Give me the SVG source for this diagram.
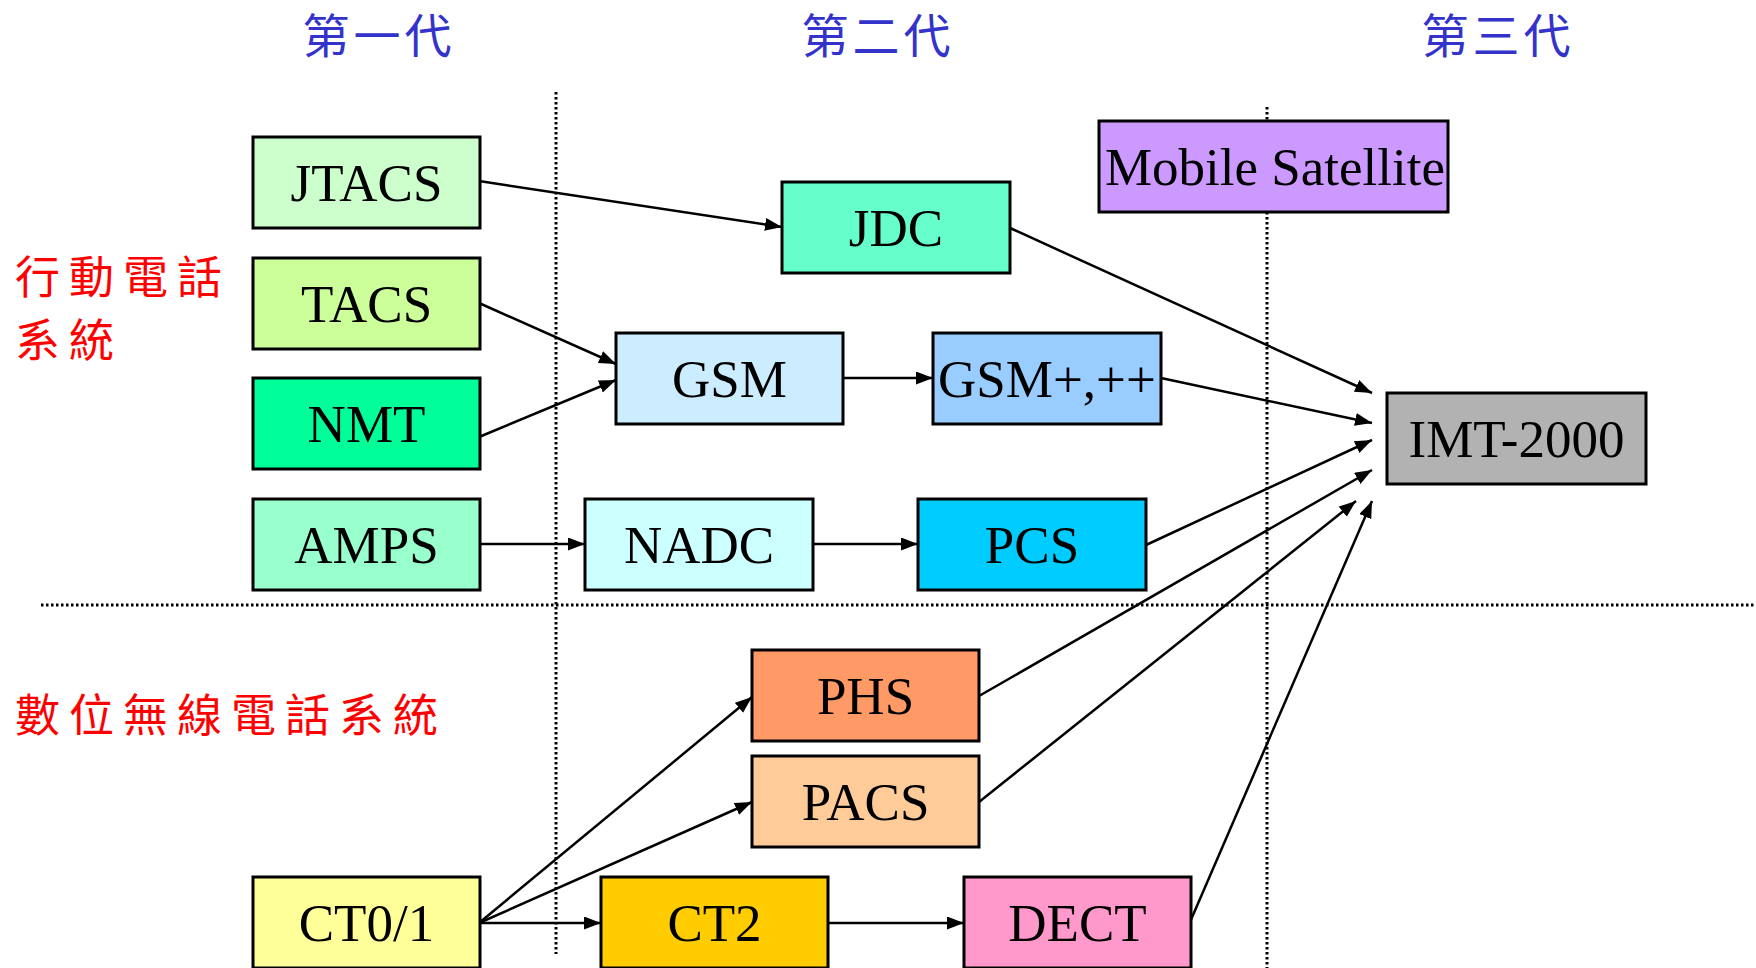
<svg xmlns="http://www.w3.org/2000/svg" width="1756" height="968" viewBox="0 0 1756 968">
<style>
.box{stroke:#000;stroke-width:3}
.lbl{font-family:"Liberation Serif","Times New Roman",serif;font-size:53px;fill:#000;text-anchor:middle}
.hdr{font-family:"Noto Sans CJK TC","Noto Sans CJK SC",sans-serif;font-size:47px;fill:#3333CC;text-anchor:middle;letter-spacing:4px}
.red{font-family:"Noto Sans CJK TC","Noto Sans CJK SC",sans-serif;font-size:45px;fill:#FF0000;letter-spacing:9px}
.dot{stroke:#000;stroke-width:3;stroke-dasharray:2.5 2.5;fill:none}
.con line{stroke:#000;stroke-width:2.5;marker-end:url(#ah)}
</style>
<defs>
<marker id="ah" markerUnits="userSpaceOnUse" markerWidth="18" markerHeight="14" refX="17" refY="6.5" orient="auto">
<path d="M0,0 L17,6.5 L0,13 Z" fill="#000"/>
</marker>
</defs>
<rect width="1756" height="968" fill="#fff"/>
<g id="dividers">
<line class="dot" x1="556" y1="92" x2="556" y2="954"/>
<line class="dot" x1="1267" y1="107" x2="1267" y2="968"/>
<line class="dot" x1="41" y1="605" x2="1756" y2="605"/>
</g>
<g id="headers">
<text class="hdr" x="379" y="53">第一代</text>
<text class="hdr" x="878" y="53">第二代</text>
<text class="hdr" x="1498" y="53">第三代</text>
<text class="red" x="15" y="294">行動電話</text>
<text class="red" x="15" y="357">系統</text>
<text class="red" x="15" y="732">數位無線電話系統</text>
</g>
<g id="connectors" class="con">
<line x1="479" y1="181" x2="782" y2="227"/>
<line x1="479" y1="303" x2="616" y2="364"/>
<line x1="479" y1="437" x2="616" y2="380"/>
<line x1="843" y1="378" x2="933" y2="378"/>
<line x1="479" y1="544" x2="585" y2="544"/>
<line x1="813" y1="544" x2="918" y2="544"/>
<line x1="1010" y1="228" x2="1372" y2="393"/>
<line x1="1161" y1="378" x2="1372" y2="423"/>
<line x1="1146" y1="545" x2="1372" y2="440"/>
<line x1="979" y1="696" x2="1372" y2="470"/>
<line x1="979" y1="802" x2="1356" y2="501"/>
<line x1="1190" y1="922" x2="1372" y2="501"/>
<line x1="479" y1="923" x2="752" y2="697"/>
<line x1="479" y1="923" x2="752" y2="802"/>
<line x1="479" y1="923" x2="601" y2="923"/>
<line x1="828" y1="923" x2="964" y2="923"/>
</g>
<g id="JTACS"><rect class="box" x="253" y="137" width="227" height="91" fill="#CCFFCC"/><text class="lbl" x="366.5" y="201">JTACS</text></g>
<g id="TACS"><rect class="box" x="253" y="258" width="227" height="91" fill="#CCFF99"/><text class="lbl" x="366.5" y="322">TACS</text></g>
<g id="NMT"><rect class="box" x="253" y="378" width="227" height="91" fill="#00FF99"/><text class="lbl" x="366.5" y="442">NMT</text></g>
<g id="AMPS"><rect class="box" x="253" y="499" width="227" height="91" fill="#99FFCC"/><text class="lbl" x="366.5" y="563">AMPS</text></g>
<g id="JDC"><rect class="box" x="782" y="182" width="228" height="91" fill="#66FFCC"/><text class="lbl" x="896" y="246">JDC</text></g>
<g id="GSM"><rect class="box" x="616" y="333" width="227" height="91" fill="#CCECFF"/><text class="lbl" x="729.5" y="397">GSM</text></g>
<g id="GSMpp"><rect class="box" x="933" y="333" width="228" height="91" fill="#99CCFF"/><text class="lbl" x="1047" y="397">GSM+,++</text></g>
<g id="NADC"><rect class="box" x="585" y="499" width="228" height="91" fill="#CCFFFF"/><text class="lbl" x="699" y="563">NADC</text></g>
<g id="PCS"><rect class="box" x="918" y="499" width="228" height="91" fill="#00CCFF"/><text class="lbl" x="1032" y="563">PCS</text></g>
<g id="MobileSatellite"><rect class="box" x="1099" y="121" width="349" height="91" fill="#CC99FF"/><text class="lbl" x="1275" y="185">Mobile Satellite</text></g>
<g id="IMT2000"><rect class="box" x="1387" y="393" width="259" height="91" fill="#B2B2B2"/><text class="lbl" x="1516.5" y="457">IMT-2000</text></g>
<g id="PHS"><rect class="box" x="752" y="650" width="227" height="91" fill="#FF9966"/><text class="lbl" x="865.5" y="714">PHS</text></g>
<g id="PACS"><rect class="box" x="752" y="756" width="227" height="91" fill="#FFCC99"/><text class="lbl" x="865.5" y="820">PACS</text></g>
<g id="CT01"><rect class="box" x="253" y="877" width="227" height="91" fill="#FFFF99"/><text class="lbl" x="366.5" y="941">CT0/1</text></g>
<g id="CT2"><rect class="box" x="601" y="877" width="227" height="91" fill="#FFCC00"/><text class="lbl" x="714.5" y="941">CT2</text></g>
<g id="DECT"><rect class="box" x="964" y="877" width="227" height="91" fill="#FF99CC"/><text class="lbl" x="1077.5" y="941">DECT</text></g>
</svg>
